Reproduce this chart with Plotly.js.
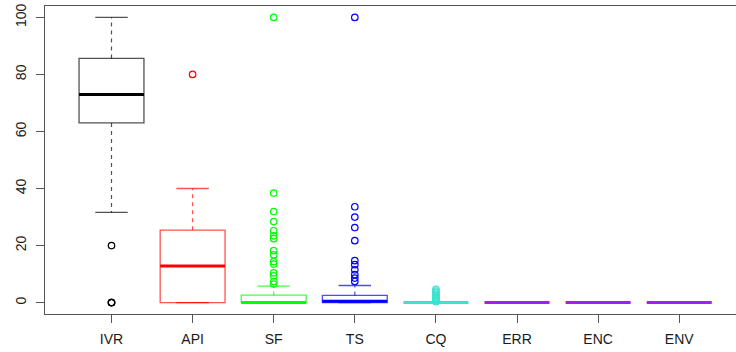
<!DOCTYPE html>
<html>
<head>
<meta charset="utf-8">
<script src="https://cdn.plot.ly/plotly-3.0.1.min.js"></script>
<style>html,body{margin:0;padding:0;background:#fff;}#chart{width:736px;height:352px;}</style>
</head>
<body>
<div id="chart"></div>
<script>
// ---- data ----
const categories   = ['IVR','API','SF','TS','CQ','ERR','ENC','ENV'];
const lowerWhisker = [31.6, 0,    0,   0,   0, 0, 0, 0];
const q1Values     = [63.0, 0,    0,   0,   0, 0, 0, 0];
const medianValues = [73.0, 12.8, 0,   0.5, 0, 0, 0, 0];
const q3Values     = [85.6, 25.4, 2.6, 2.5, 0, 0, 0, 0];
const upperWhisker = [100,  40,   5.8, 6.0, 0, 0, 0, 0];
const outliersIVR = [20, 0, 0, 0];
const outliersAPI = [80];
const outliersSF  = [100, 38.4, 31.9, 28.4, 25.2, 23.4, 22.4, 18.2, 16.7, 14.4, 13.5, 10.4, 9.4, 7.4, 6.5];
const outliersTS  = [100, 33.6, 30.0, 26.3, 21.7, 14.7, 13.3, 11.5, 9.8, 8.6, 7.4];
const outliersCQ  = [0.3, 0.6, 1.0, 1.3, 1.7, 2.0, 2.5, 3.0, 3.5, 4.0, 4.6];
const outliersERR = [];
const outliersENC = [];
const outliersENV = [];
const outliers = [outliersIVR, outliersAPI, outliersSF, outliersTS, outliersCQ, outliersERR, outliersENC, outliersENV];
const yTicks = [0, 20, 40, 60, 80, 100];

// ---- styles ----
const strong = ['#000000','#ff0000','#00ff00','#0000ff','#40e0d0','#a020f0','#a020f0','#a020f0'];
const thin   = ['rgba(0,0,0,0.68)','rgba(255,0,0,0.68)','rgba(0,255,0,0.75)','rgba(0,0,255,0.7)','rgba(64,224,208,0.85)','rgba(160,32,240,0.85)','rgba(160,32,240,0.85)','rgba(160,32,240,0.85)'];
const boxWex = 0.8, stapleHalf = 0.2;

const traces = [];
categories.forEach((c, i) => {
  const x = i + 1;
  traces.push({
    type: 'box', x: [x], q1: [q1Values[i]], median: [medianValues[i]], q3: [q3Values[i]],
    lowerfence: [q1Values[i]], upperfence: [q3Values[i]],
    width: boxWex, boxpoints: false, whiskerwidth: 0,
    line: {color: thin[i], width: 1.3}, fillcolor: 'rgba(0,0,0,0)',
    hoverinfo: 'skip', showlegend: false
  });
  traces.push({
    type: 'scatter', mode: 'lines',
    x: [x, x, null, x, x],
    y: [q3Values[i], upperWhisker[i], null, q1Values[i], lowerWhisker[i]],
    line: {color: thin[i], width: 1.2, dash: '4px,4px'},
    hoverinfo: 'skip', showlegend: false
  });
  traces.push({
    type: 'scatter', mode: 'lines',
    x: [x - stapleHalf, x + stapleHalf, null, x - stapleHalf, x + stapleHalf],
    y: [upperWhisker[i], upperWhisker[i], null, lowerWhisker[i], lowerWhisker[i]],
    line: {color: thin[i], width: 1.3},
    hoverinfo: 'skip', showlegend: false
  });
  traces.push({
    type: 'scatter', mode: 'lines',
    x: [x - boxWex/2, x + boxWex/2],
    y: [medianValues[i], medianValues[i]],
    line: {color: strong[i], width: 3},
    hoverinfo: 'skip', showlegend: false
  });
  if (outliers[i].length) {
    traces.push({
      type: 'scatter', mode: 'markers',
      x: outliers[i].map(() => x), y: outliers[i],
      marker: {symbol: 'circle-open', size: 6.5, color: strong[i], line: {width: 1.2, color: strong[i]}},
      hoverinfo: 'skip', showlegend: false
    });
  }
});

const layout = {
  width: 736, height: 352,
  margin: {l: 45, r: 0, t: 6, b: 38},
  paper_bgcolor: '#fff', plot_bgcolor: '#fff',
  font: {family: 'Liberation Sans, Arial, sans-serif', size: 14, color: '#1a1a1a'},
  showlegend: false,
  xaxis: {
    range: [0.18, 8.70], tickmode: 'array',
    tickvals: categories.map((c, i) => i + 1), ticktext: categories,
    showgrid: false, zeroline: false,
    showline: true, mirror: true, linecolor: '#555', linewidth: 1.2,
    ticks: 'outside', ticklen: 8, tickcolor: '#555', tickwidth: 1,
    ticklabelstandoff: 4
  },
  yaxis: {
    range: [-4, 104], tickmode: 'array', tickvals: yTicks, ticktext: yTicks.map(String),
    tickangle: -90, showgrid: false, zeroline: false,
    showline: true, linecolor: '#555', linewidth: 1.2,
    ticks: 'outside', ticklen: 8, tickcolor: '#555', tickwidth: 1,
    ticklabelstandoff: 4
  }
};

Plotly.newPlot('chart', traces, layout, {staticPlot: true, displayModeBar: false});
</script>
</body>
</html>
